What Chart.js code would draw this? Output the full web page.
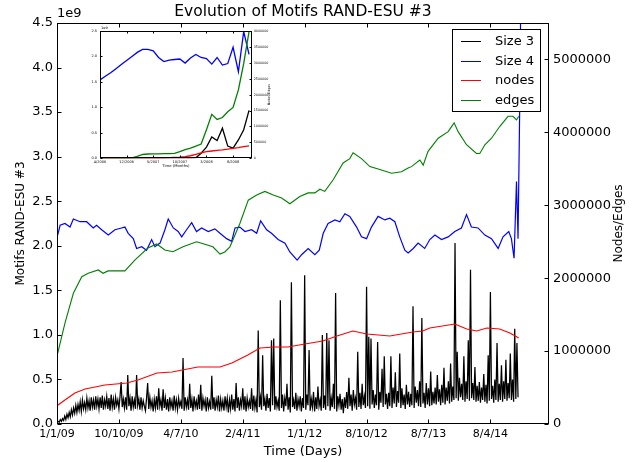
<!DOCTYPE html>
<html><head><meta charset="utf-8">
<script src="https://cdn.jsdelivr.net/npm/chart.js@4/dist/chart.umd.min.js"></script>
<style>
html,body{margin:0;padding:0;background:#fff;}
#wrap{position:relative;width:635px;height:462px;overflow:hidden;}
#main{position:absolute;left:0;top:0;}
#inset{position:absolute;left:80px;top:22px;}
</style></head><body>
<div id="wrap">
<canvas id="main" width="635" height="462" style="width:635px;height:462px"></canvas>
<canvas id="inset" width="195" height="152" style="width:195px;height:152px"></canvas>
</div>
<script>
// ---------- main chart data ----------
const xTickDays = [0, 280, 560, 840, 1120, 1400, 1680, 1960];
const xTickLabels = ['1/1/09', '10/10/09', '4/7/10', '2/4/11', '1/1/12', '8/10/12', '8/7/13', '8/4/14'];
const leftTicks = [0, 0.5, 1, 1.5, 2, 2.5, 3, 3.5, 4, 4.5];          // units of 1e9
const rightTicks = [0, 1000000, 2000000, 3000000, 4000000, 5000000];
const seriesLabels = ['Size 3', 'Size 4', 'nodes', 'edges'];
const seriesColors = ['#000000', '#0000ff', '#ff0000', '#008000'];

// Size 3 motifs (1e9), sampled every 5 days
const size3StepDays = 5;
const size3Values = [
  0.02,0.03,0.02,0.05,0.03,0.06,0.04,0.09,0.05,0.11,0.07,0.13,0.08,0.16,0.10,0.18,0.12,0.21,0.13,0.22,
  0.15,0.25,0.14,0.27,0.17,0.24,0.16,0.29,0.18,0.26,0.15,0.30,0.19,0.27,0.16,0.31,0.20,0.28,0.17,0.30,
  0.18,0.32,0.16,0.27,0.20,0.31,0.17,0.29,0.15,0.33,0.19,0.28,0.16,0.30,0.21,0.27,0.17,0.31,0.47,0.19,
  0.28,0.18,0.30,0.16,0.55,0.20,0.29,0.15,0.31,0.19,0.27,0.17,0.55,0.21,0.28,0.16,0.30,0.18,0.26,0.20,
  0.15,0.29,0.46,0.17,0.30,0.19,0.26,0.14,0.28,0.18,0.31,0.16,0.40,0.20,0.27,0.15,0.39,0.18,0.29,0.16,
  0.28,0.14,0.30,0.19,0.26,0.15,0.32,0.18,0.27,0.16,0.29,0.20,0.25,0.17,0.74,0.15,0.30,0.19,0.27,0.16,
  0.45,0.18,0.28,0.14,0.31,0.19,0.26,0.16,0.33,0.17,0.44,0.15,0.29,0.20,0.27,0.14,0.30,0.18,0.25,0.16,
  0.54,0.17,0.30,0.15,0.27,0.19,0.32,0.14,0.28,0.18,0.26,0.15,0.31,0.19,0.29,0.13,0.27,0.17,0.33,0.16,
  0.28,0.14,0.46,0.18,0.30,0.15,0.27,0.20,0.40,0.16,0.31,0.14,0.29,0.19,0.26,0.17,0.40,0.15,0.32,0.18,
  0.27,0.13,1.05,0.19,0.30,0.16,0.77,0.20,0.28,0.15,0.34,0.18,0.29,0.14,0.94,0.21,0.96,0.16,0.31,0.19,
  0.26,0.15,1.39,0.18,0.33,0.14,0.29,0.20,0.45,0.16,0.30,0.13,1.59,0.19,0.27,0.17,0.35,0.15,0.28,0.20,
  0.31,0.14,0.29,0.18,1.67,0.16,0.33,0.21,0.83,0.15,0.28,0.19,0.36,0.14,0.30,0.17,0.42,0.20,0.27,0.15,
  1.00,0.18,0.32,0.16,1.02,0.20,0.94,0.15,0.29,0.19,0.45,0.17,1.47,0.14,0.31,0.21,0.34,0.16,0.28,0.12,
  0.30,0.18,0.36,0.17,0.52,0.20,0.33,0.15,0.38,0.22,0.29,0.16,0.81,0.19,0.35,0.17,0.45,0.21,0.31,0.18,
  1.54,0.20,0.98,0.17,0.96,0.22,0.38,0.18,0.33,0.21,0.92,0.16,0.36,0.24,0.62,0.19,0.76,0.22,0.34,0.17,
  0.35,0.20,0.76,0.18,0.41,0.23,0.58,0.19,0.37,0.24,0.79,0.18,0.40,0.21,0.33,0.17,0.44,0.22,0.36,0.19,
  0.34,0.21,1.32,0.18,0.42,0.24,0.38,0.20,0.48,0.19,1.19,0.23,0.35,0.18,0.46,0.22,0.40,0.20,0.59,0.21,
  0.36,0.23,0.41,0.22,0.55,0.25,0.39,0.21,0.44,0.24,0.63,0.22,0.41,0.26,0.48,0.23,0.68,0.25,0.42,0.27,
  2.03,0.29,0.81,0.26,0.52,0.30,0.45,0.27,0.76,0.25,0.48,0.28,0.94,0.26,1.73,0.29,0.46,0.27,0.64,0.25,
  0.43,0.26,0.47,0.24,0.41,0.27,0.56,0.25,0.44,0.23,0.77,0.26,1.48,0.28,0.43,0.24,0.50,0.27,0.91,0.25,
  0.45,0.27,0.66,0.25,0.48,0.28,0.72,0.26,0.46,0.29,0.79,0.27,0.50,0.25,1.07,0.28,0.91,0.30
];

// Size 4 motifs (1e9)
const size4Days = [
  3,14,36,59,74,104,134,164,179,202,
  232,262,292,307,322,345,360,383,405,428,
  443,466,488,503,526,548,564,586,609,631,
  654,684,714,737,767,790,805,827,850,880,
  903,921,948,970,1000,1031,1053,1086,1106,1136,
  1166,1186,1204,1226,1257,1279,1302,1324,1355,1377,
  1400,1422,1452,1483,1505,1528,1550,1573,1588,1611,
  1633,1663,1686,1709,1739,1769,1799,1829,1852,1874,
  1904,1935,1965,1995,2017,2043,2055,2067,2078,2085,
  2093,2097
];
const size4Values = [
  2.12,2.23,2.25,2.21,2.30,2.27,2.27,2.20,2.23,2.18,
  2.12,2.18,2.20,2.21,2.14,2.08,1.97,1.99,1.95,2.07,
  1.99,2.03,2.18,2.30,2.20,2.16,2.10,2.18,2.26,2.16,
  2.20,2.16,2.19,2.14,2.08,2.05,2.20,2.21,2.16,2.18,
  2.14,2.28,2.18,2.14,2.07,2.03,1.93,1.84,1.90,1.97,
  1.90,1.95,2.14,2.25,2.29,2.27,2.36,2.33,2.21,2.10,
  2.08,2.21,2.33,2.29,2.31,2.27,2.10,1.95,1.92,1.97,
  2.03,1.97,2.07,2.12,2.07,2.10,2.16,2.20,2.35,2.21,
  2.20,2.12,2.08,1.97,2.10,2.16,2.08,1.86,2.72,2.08,
  3.64,4.70
];

// nodes (right axis)
const nodesDays = [0,36,81,127,217,316,366,452,520,637,737,791,863,918,985,1044,1121,1202,1266,1338,1401,1505,1609,1654,1686,1799,1853,1898,1944,2002,2048,2088];
const nodesValues = [251000,329000,425000,480000,535000,562000,604000,700000,713000,782000,782000,837000,947000,1043000,1056000,1056000,1097000,1139000,1207000,1276000,1235000,1207000,1262000,1276000,1317000,1372000,1303000,1276000,1317000,1303000,1248000,1180000];

// edges (right axis)
const edgesDays = [3,36,74,112,141,187,208,231,307,353,411,451,488,524,570,631,654,705,737,759,782,827,865,903,940,978,1016,1053,1098,1136,1166,1189,1211,1249,1294,1324,1339,1377,1415,1460,1513,1558,1588,1603,1641,1656,1678,1724,1769,1796,1814,1852,1897,1912,1935,1965,2002,2040,2062,2078,2088];
const edgesValues = [970000,1385000,1793000,2020000,2067000,2113000,2067000,2100000,2100000,2250000,2414000,2469000,2387000,2363000,2432000,2500000,2480000,2430000,2330000,2360000,2430000,2750000,3070000,3140000,3190000,3140000,3100000,3020000,3120000,3170000,3170000,3220000,3190000,3350000,3580000,3640000,3720000,3640000,3530000,3490000,3440000,3460000,3510000,3530000,3620000,3550000,3740000,3920000,4010000,4130000,4010000,3830000,3710000,3710000,3830000,3920000,4080000,4220000,4220000,4170000,4220000];

// ---------- inset data ----------
const insetMonths = [0,1,2,3,4,5,6,7,8,9,10,11,12,13,14,15,16,17,18,19,20,21,22,23,24,25,26,27,28];
const insetTickMonths = [0, 5, 10, 15, 20, 25];
const insetTickLabels = ['4/2006', '12/2006', '5/2007', '10/2007', '3/2008', '8/2008'];
const insetLeftTicks = [0, 0.5, 1, 1.5, 2, 2.5];
const insetRightTicks = [0,500000,1000000,1500000,2000000,2500000,3000000,3500000,4000000];
const insetSize3 = [0,0,0,0,0,0,0,0,0,0,0,0,0,0,0,0,0,0,0.01,0.10,0.22,0.42,0.35,0.59,0.24,0.20,0.36,0.56,0.94];
const insetSize4 = [1.54,1.61,1.68,1.76,1.84,1.92,2.00,2.08,2.14,2.14,2.11,1.98,1.90,1.93,1.94,1.95,1.87,1.97,2.04,1.98,1.96,1.85,1.98,1.83,1.86,2.18,1.70,2.49,2.04];
const insetNodes = [0,0,0,0,0,0,0,0,0,0,0,0,10000,20000,30000,40000,55000,80000,120000,170000,210000,230000,250000,265000,285000,310000,335000,365000,390000];
const insetEdges = [0,0,0,0,0,0,10000,60000,120000,135000,138000,140000,145000,150000,155000,210000,270000,320000,380000,450000,900000,1380000,1220000,1280000,1460000,1600000,2150000,2980000,3980000];

// ---------- setup ----------
Chart.defaults.font.family = '"DejaVu Sans", sans-serif';
Chart.defaults.color = '#000';

const pts = (xs, ys) => ys.map((v, i) => ({x: xs[i], y: v}));
const size3Days = size3Values.map((v, i) => i * size3StepDays);

function lineDs(label, color, data, axis, order, width) {
  return {label, data, borderColor: color, backgroundColor: color, borderWidth: width,
    pointRadius: 0, tension: 0, yAxisID: axis, order, fill: false};
}

function framePlugin(o) {
  return {
    id: 'frame_' + o.id,
    beforeDatasetsDraw(chart) {
      const {ctx, chartArea: a} = chart;
      ctx.save(); ctx.fillStyle = '#fff';
      ctx.fillRect(a.left, a.top, a.right - a.left, a.bottom - a.top);
      ctx.restore();
    },
    afterDatasetsDraw(chart) {
      const {ctx, chartArea: a, scales} = chart;
      const L = Math.round(a.left) + 0.5, R = Math.round(a.right) - 0.5;
      const T = Math.round(a.top) + 0.5, B = Math.round(a.bottom) - 0.5;
      ctx.save();
      ctx.strokeStyle = '#000'; ctx.lineWidth = o.lw;
      ctx.beginPath();
      const len = o.tick;
      scales.x.ticks.forEach(t => {
        const px = Math.round(scales.x.getPixelForValue(t.value)) + 0.5;
        ctx.moveTo(px, B); ctx.lineTo(px, B - len);
        ctx.moveTo(px, T); ctx.lineTo(px, T + len);
      });
      scales.y.ticks.forEach(t => {
        const py = Math.round(scales.y.getPixelForValue(t.value)) + 0.5;
        ctx.moveTo(L, py); ctx.lineTo(L + len, py);
      });
      scales.y2.ticks.forEach(t => {
        const py = Math.round(scales.y2.getPixelForValue(t.value)) + 0.5;
        ctx.moveTo(R, py); ctx.lineTo(R - len, py);
      });
      ctx.stroke();
      ctx.strokeRect(L, T, R - L, B - T);
      ctx.restore();
    },
    afterDraw(chart) {
      const {ctx, chartArea: a} = chart;
      ctx.save();
      ctx.fillStyle = '#000';
      ctx.font = o.expFont + 'px "DejaVu Sans", sans-serif';
      ctx.textAlign = 'left'; ctx.textBaseline = 'middle';
      ctx.fillText('1e9', a.left + o.expDx, a.top - o.expDy);
      ctx.font = o.rtFont + 'px "DejaVu Sans", sans-serif';
      ctx.textAlign = 'center';
      ctx.translate(o.rtX, (a.top + a.bottom) / 2);
      ctx.rotate(-Math.PI / 2);
      ctx.fillText('Nodes/Edges', 0, 0);
      ctx.restore();
      if (o.extra) o.extra(chart);
    }
  };
}

// ---------- main chart ----------
new Chart(document.getElementById('main'), {
  type: 'line',
  data: {
    datasets: [
      lineDs(seriesLabels[3], seriesColors[3], pts(edgesDays, edgesValues), 'y2', 0, 1.1),
      lineDs(seriesLabels[2], seriesColors[2], pts(nodesDays, nodesValues), 'y2', 1, 1.1),
      lineDs(seriesLabels[1], seriesColors[1], pts(size4Days, size4Values), 'y', 2, 1.2),
      lineDs(seriesLabels[0], seriesColors[0], pts(size3Days, size3Values), 'y', 3, 1.25)
    ]
  },
  options: {
    responsive: false, animation: false, devicePixelRatio: 1,
    layout: {padding: {top: 23, left: 0, right: 0, bottom: 0}},
    plugins: {legend: {display: false}, tooltip: {enabled: false}, title: {display: false}},
    scales: {
      x: {
        type: 'linear', min: 0, max: 2225,
        afterBuildTicks: s => { s.ticks = xTickDays.map(v => ({value: v})); },
        afterFit: s => { s.height = 38; },
        grid: {display: false, drawTicks: false}, border: {display: false},
        ticks: {callback: (v, i) => xTickLabels[i], font: {size: 11}, padding: 4, maxRotation: 0, autoSkip: false},
        title: {display: true, text: 'Time (Days)', font: {size: 13}, padding: {top: 0, bottom: 3}}
      },
      y: {
        type: 'linear', position: 'left', min: 0, max: 4.5,
        afterBuildTicks: s => { s.ticks = leftTicks.map(v => ({value: v})); },
        afterFit: s => { s.width = 57; },
        grid: {display: false, drawTicks: false}, border: {display: false},
        ticks: {callback: v => v.toFixed(1), font: {size: 13}, padding: 4, autoSkip: false},
        title: {display: true, text: 'Motifs RAND-ESU #3', font: {size: 12}, padding: {top: 14, bottom: 0}}
      },
      y2: {
        type: 'linear', position: 'right', min: 0, max: 5500000,
        afterBuildTicks: s => { s.ticks = rightTicks.map(v => ({value: v})); },
        afterFit: s => { s.width = 86; },
        grid: {display: false, drawTicks: false}, border: {display: false},
        ticks: {callback: v => String(v), font: {size: 13}, padding: 4, autoSkip: false}
      }
    }
  },
  plugins: [framePlugin({
    id: 'main', lw: 1, tick: 4, expFont: 13, expDx: 0, expDy: 9, rtFont: 12, rtX: 619,
    extra(chart) {
      const {ctx, chartArea: a} = chart;
      ctx.save();
      ctx.fillStyle = '#000';
      ctx.font = '15.5px "DejaVu Sans", sans-serif';
      ctx.textAlign = 'center'; ctx.textBaseline = 'middle';
      ctx.fillText('Evolution of Motifs RAND-ESU #3', (a.left + a.right) / 2, 12);
      const bx = Math.round(a.right) - 96.5, by = Math.round(a.top) + 6.5, bw = 88, bh = 82;
      ctx.fillStyle = '#fff'; ctx.fillRect(bx, by, bw, bh);
      ctx.strokeStyle = '#000'; ctx.lineWidth = 1; ctx.strokeRect(bx, by, bw, bh);
      ctx.font = '13px "DejaVu Sans", sans-serif';
      ctx.textAlign = 'left'; ctx.textBaseline = 'middle';
      seriesLabels.forEach((lab, i) => {
        const yy = Math.round(by + 11.5 + i * 19.5) + 0.5;
        ctx.strokeStyle = seriesColors[i]; ctx.lineWidth = 1;
        ctx.beginPath(); ctx.moveTo(bx + 8.5, yy); ctx.lineTo(bx + 28.5, yy); ctx.stroke();
        ctx.fillStyle = '#000';
        ctx.fillText(lab, bx + 42.5, yy);
      });
      ctx.restore();
    }
  })]
});

// ---------- inset chart ----------
new Chart(document.getElementById('inset'), {
  type: 'line',
  data: {
    datasets: [
      lineDs(seriesLabels[3], seriesColors[3], pts(insetMonths, insetEdges), 'y2', 0, 1.3),
      lineDs(seriesLabels[2], seriesColors[2], pts(insetMonths, insetNodes), 'y2', 1, 1.3),
      lineDs(seriesLabels[1], seriesColors[1], pts(insetMonths, insetSize4), 'y', 2, 1.3),
      lineDs(seriesLabels[0], seriesColors[0], pts(insetMonths, insetSize3), 'y', 3, 1.3)
    ]
  },
  options: {
    responsive: false, animation: false, devicePixelRatio: 1,
    layout: {padding: {top: 9, left: 0, right: 0, bottom: 0}},
    plugins: {legend: {display: false}, tooltip: {enabled: false}, title: {display: false}},
    scales: {
      x: {
        type: 'linear', min: 0, max: 28.5,
        afterBuildTicks: s => { s.ticks = insetTickMonths.map(v => ({value: v})); },
        afterFit: s => { s.height = 15.7; },
        grid: {display: false, drawTicks: false}, border: {display: false},
        ticks: {callback: (v, i) => insetTickLabels[i], font: {size: 3.5}, padding: 2, maxRotation: 0, autoSkip: false},
        title: {display: true, text: 'Time (Months)', font: {size: 3.8}, padding: {top: 0, bottom: 6}}
      },
      y: {
        type: 'linear', position: 'left', min: 0, max: 2.5,
        afterBuildTicks: s => { s.ticks = insetLeftTicks.map(v => ({value: v})); },
        afterFit: s => { s.width = 20; },
        grid: {display: false, drawTicks: false}, border: {display: false},
        ticks: {callback: v => v.toFixed(1), font: {size: 3.5}, padding: 3, autoSkip: false}
      },
      y2: {
        type: 'linear', position: 'right', min: 0, max: 4000000,
        afterBuildTicks: s => { s.ticks = insetRightTicks.map(v => ({value: v})); },
        afterFit: s => { s.width = 23.3; },
        grid: {display: false, drawTicks: false}, border: {display: false},
        ticks: {callback: v => String(v), font: {size: 3.3}, padding: 2, autoSkip: false}
      }
    }
  },
  plugins: [framePlugin({id: 'inset', lw: 1, tick: 2, expFont: 3.5, expDx: 1, expDy: 3, rtFont: 3.3, rtX: 189})]
});
</script>
</body></html>
